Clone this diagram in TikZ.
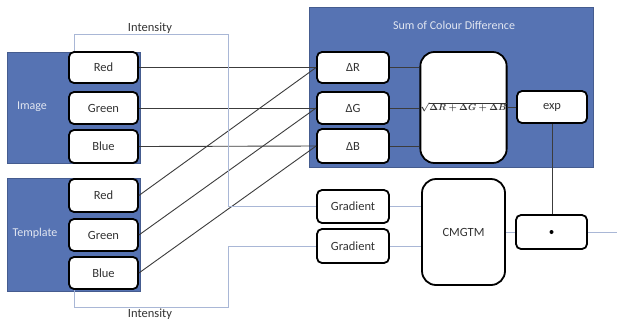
\documentclass[tikz,border=0pt]{standalone}
\usepackage{fontspec}
\setmainfont{Carlito}
\begin{document}
\begin{tikzpicture}[x=1pt,y=-1pt,
  panel/.style={fill=panelblue,draw=panelblue!80!black,line width=0.6pt},
  box/.style={draw=black,fill=white,line width=1.8pt,rounded corners=5pt,
    text=textgray,font=\fontsize{12.5}{14}\selectfont,inner sep=0pt},
  wire/.style={draw=wiregray,line width=0.9pt},
  soft/.style={draw=lightwire,line width=0.9pt},
  paneltext/.style={text=white!82!panelblue,font=\fontsize{12}{14}\selectfont},
  lbl/.style={text=textgray,font=\fontsize{12.5}{14}\selectfont}]
\definecolor{panelblue}{HTML}{5673B3}
\definecolor{textgray}{HTML}{333333}
\definecolor{wiregray}{HTML}{3C3C3C}
\definecolor{lightwire}{HTML}{A9B7D6}
\useasboundingbox (0,0) rectangle (617,325);
\fill[white] (0,0) rectangle (617,325);

% coloured panels
\path[panel] (7,52) rectangle (140,163);
\path[panel] (7,178) rectangle (140,291);
\path[panel] (309,7) rectangle (593,167);
\node[paneltext] (imglbl) at (32,107) {Image};
\node[paneltext] (tpllbl) at (35,233) {Template};
\node[paneltext] (sumlbl) at (454,25) {Sum of Colour Difference};

% image channels
\node[box,minimum width=69pt,minimum height=31pt] (iR) at (103.5,67.5) {Red};
\node[box,minimum width=69pt,minimum height=32pt] (iG) at (103.5,108) {Green};
\node[box,minimum width=69pt,minimum height=33pt] (iB) at (103.5,146.5) {Blue};
% template channels
\node[box,minimum width=69pt,minimum height=33pt] (tR) at (103.5,195.5) {Red};
\node[box,minimum width=69pt,minimum height=32pt] (tG) at (103.5,235) {Green};
\node[box,minimum width=69pt,minimum height=32pt] (tB) at (103.5,273) {Blue};

% colour differences
\node[box,minimum width=72pt,minimum height=31pt] (dR) at (353,67.5) {ΔR};
\node[box,minimum width=72pt,minimum height=32pt] (dG) at (353,108) {ΔG};
\node[box,minimum width=72pt,minimum height=34pt] (dB) at (353,146) {ΔB};
\node[box,minimum width=83pt,minimum height=111pt,rounded corners=14pt,
  font=\fontsize{9}{10}\selectfont\mathversion{bold}] (sq) at (463.5,107.5)
  {$\sqrt{\Delta R+\Delta G+\Delta B}$};
\node[box,minimum width=70pt,minimum height=32pt] (ex) at (552,107) {exp};

% gradient branch
\node[box,minimum width=72pt,minimum height=33pt] (g1) at (353,206.5) {Gradient};
\node[box,minimum width=72pt,minimum height=34pt] (g2) at (353,246) {Gradient};
\node[box,minimum width=83pt,minimum height=106pt,rounded corners=14pt] (cm) at (463.5,232) {CMGTM};
\node[box,minimum width=71pt,minimum height=34pt] (pr) at (551.5,232) {};
\fill[black] (pr.center) circle (2pt);
\coordinate (out) at (617,232);

% channel wiring
\draw[wire] (iR.east) -- (dR.west);
\draw[wire] (iG.east) -- (dG.west);
\draw[wire] (iB.east) -- (dB.west);
\draw[wire] (tR.east) -- (dR.west);
\draw[wire] (tG.east) -- (dG.west);
\draw[wire] (tB.east) -- (dB.west);
\draw[wire] (dR.east) -- (dR.east -| sq.west);
\draw[wire] (dG.east) -- (dG.east -| sq.west);
\draw[wire] (dB.east) -- (dB.east -| sq.west);
\draw[wire] (sq.east |- ex.west) -- (ex.west);
\draw[wire] (ex.south) -- (ex.south |- pr.north);

% intensity paths
\coordinate (itop) at (228,34);
\coordinate (ibot) at (228,307);
\draw[soft] ([xshift=-29.5pt]iR.north) |- (itop) |- (g1.west);
\draw[soft] ([xshift=-29.5pt]tB.south) |- (ibot) |- (g2.west);
\node[lbl] (intop) at (150,28) {Intensity};
\node[lbl] (inbot) at (150,314) {Intensity};

% matching output
\draw[soft] (g1.east) -- (g1.east -| cm.west);
\draw[soft] (g2.east) -- (g2.east -| cm.west);
\draw[soft] (cm.east) -- (pr.west);
\draw[soft] (pr.east) -- (out);
\end{tikzpicture}
\end{document}
